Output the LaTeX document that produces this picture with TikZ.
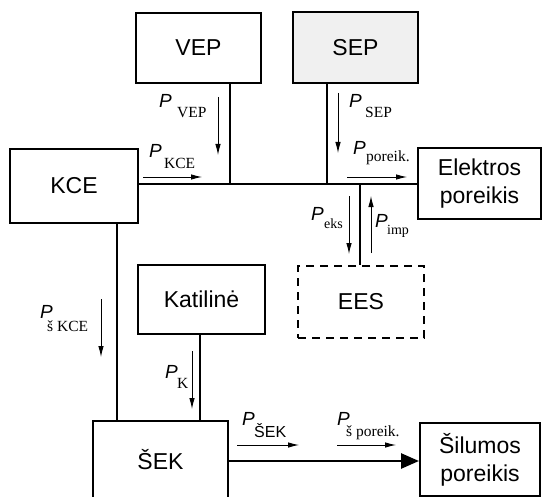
\documentclass[tikz,border=0pt]{standalone}
\usepackage{fontspec}
\newfontfamily\arialf{Liberation Sans}
\newfontfamily\tnrf{Liberation Serif}
\usetikzlibrary{arrows.meta}
\begin{document}
\begin{tikzpicture}[x=1pt,y=-1pt,
  box/.style={draw, line width=2pt, rectangle, inner sep=0pt, align=center,
    font=\arialf\fontsize{23}{28}\selectfont},
  conn/.style={line width=2pt},
  flow/.style={line width=0.9pt, -{Latex[length=11pt,width=5.5pt]}},
  plet/.style={inner sep=0pt, anchor=base west, font=\arialf\itshape\fontsize{19}{19}\selectfont},
  psub/.style={inner sep=0pt, anchor=base west, font=\tnrf\fontsize{15.5}{15.5}\selectfont},
  psubs/.style={inner sep=0pt, anchor=base west, font=\tnrf\fontsize{14}{14}\selectfont},
  psubsf/.style={inner sep=0pt, anchor=base west, font=\arialf\fontsize{16}{16}\selectfont},
]
\useasboundingbox (0,0) rectangle (543,497);

% boxes
\node[box, minimum width=125pt, minimum height=70pt] (vep) at (198.5,48) {VEP};
\node[box, fill=black!6, minimum width=125pt, minimum height=71pt] (sep) at (355.5,47.5) {SEP};
\node[box, minimum width=128pt, minimum height=74pt] (kce) at (74,186) {KCE};
\node[box, minimum width=123pt, minimum height=71pt] (elek) at (479.5,183.5) {Elektros\\poreikis};
\node[box, dash pattern=on 8pt off 6pt, minimum width=126pt, minimum height=72pt] (ees) at (361,302) {EES};
\node[box, minimum width=127pt, minimum height=69pt] (kat) at (201.5,299.5) {Katilinė};
\node[box, minimum width=135pt, minimum height=78pt] (sek) at (160.5,460) {ŠEK};
\node[box, minimum width=120pt, minimum height=73pt] (sil) at (480,459.5) {Šilumos\\poreikis};

% junctions
\coordinate (jv) at (230,184);
\coordinate (js) at (327,184);
\coordinate (je) at (360,184);
\coordinate (jk) at (117,300);
\coordinate (jt) at (200,380);
\coordinate (jh) at (300,461);

% main connectors
\draw[conn] (kce.east |- jv) -- (elek.west |- jv);
\draw[conn] (vep.south -| jv) -- (jv);
\draw[conn] (sep.south -| js) -- (js);
\draw[conn] (je) -- (ees.north -| je);
\draw[conn] (kce.south -| jk) -- (sek.north -| jk);
\draw[conn] (kat.south -| jt) -- (sek.north -| jt);
\draw[line width=2.6pt, -{Triangle[length=18pt,width=15pt]}] (sek.east |- jh) -- (sil.west |- jh);

% flow arrows
\coordinate (fvep1) at (218,97);  \coordinate (fvep2) at (218,155);
\coordinate (fsep1) at (338,93);  \coordinate (fsep2) at (338,153);
\coordinate (fkce1) at (143,177); \coordinate (fkce2) at (202,177);
\coordinate (fpor1) at (347,177); \coordinate (fpor2) at (407,177);
\coordinate (feks1) at (349,196); \coordinate (feks2) at (349,254);
\coordinate (fimp1) at (371,253); \coordinate (fimp2) at (371,196);
\coordinate (fsk1) at (101,299);  \coordinate (fsk2) at (101,357);
\coordinate (fk1) at (192,351);   \coordinate (fk2) at (192,409);
\coordinate (fsek1) at (237,445); \coordinate (fsek2) at (299,445);
\coordinate (fsp1) at (337,445);  \coordinate (fsp2) at (396,445);
\draw[flow] (fvep1) -- (fvep2);
\draw[flow] (fsep1) -- (fsep2);
\draw[flow] (fkce1) -- (fkce2);
\draw[flow] (fpor1) -- (fpor2);
\draw[flow] (feks1) -- (feks2);
\draw[flow] (fimp1) -- (fimp2);
\draw[flow] (fsk1) -- (fsk2);
\draw[flow] (fk1) -- (fk2);
\draw[flow] (fsek1) -- (fsek2);
\draw[flow] (fsp1) -- (fsp2);

% labels
\node[plet] (lvep) at (159,108) {P};  \node[psub] (lvepsub) at (177,118) {VEP};
\node[plet] (lsep) at (349,108) {P};  \node[psub] (lsepsub) at (365,118) {SEP};
\node[plet] (lkce) at (149,158) {P};  \node[psub] (lkcesub) at (164,168) {KCE};
\node[plet] (lpor) at (353,155) {P};  \node[psub] (lporsub) at (366,162) {poreik.};
\node[plet] (leks) at (311,220) {P};  \node[psubs] (lekssub) at (324,228) {eks};
\node[plet] (limp) at (375,227) {P};  \node[psubs] (limpsub) at (387,234) {imp};
\node[plet] (lsk) at (40,318) {P};    \node[psub] (lsksub) at (47,331) {š KCE};
\node[plet] (lk) at (165,378) {P};    \node[psub] (lksub) at (177,388) {K};
\node[plet] (lsek) at (242,425) {P};  \node[psubsf] (lseksub) at (254,437) {ŠEK};
\node[plet] (lsp) at (337,425) {P};   \node[psub] (lspsub) at (346,436) {š poreik.};
\end{tikzpicture}
\end{document}
